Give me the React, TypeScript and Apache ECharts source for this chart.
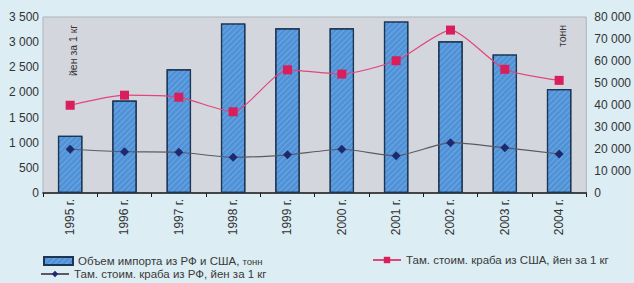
import React, { useEffect, useRef } from "react";
import * as echarts from "echarts";

const categories = ["1995 г.", "1996 г.", "1997 г.", "1998 г.", "1999 г.", "2000 г.", "2001 г.", "2002 г.", "2003 г.", "2004 г."];
const importVolume = [26000, 42000, 56200, 77100, 74900, 74900, 78000, 69000, 63000, 47300];
const priceUSA = [1745, 1945, 1905, 1615, 2450, 2365, 2630, 3240, 2460, 2240];
const priceRF = [870, 820, 810, 710, 760, 870, 740, 1000, 900, 775];
const leftTicks = { min: 0, max: 3500, interval: 500 };
const rightTicks = { min: 0, max: 80000, interval: 10000 };

const fmt = (v: number) => String(v).replace(/\B(?=(\d{3})+(?!\d))/g, " ");

const FONT = "Liberation Sans, Arial, sans-serif";
const legendText = { fontSize: 11.5, color: "#3a3a3a", fontFamily: FONT };

export default function App() {
  const ref = useRef<HTMLDivElement>(null);
  useEffect(() => {
    const chart = echarts.init(ref.current!, undefined, { renderer: "svg" });
    chart.setOption({
      animation: false,
      backgroundColor: "#dcedf3",
      textStyle: { fontFamily: FONT },
      grid: {
        left: 43, right: 42, top: 17, bottom: 90,
        show: true, backgroundColor: "#d4d6dd", borderColor: "#aeb3bb", borderWidth: 1,
      },
      legend: [
        {
          data: [{ name: "Объем импорта из РФ и США, тонн", icon: "rect" }],
          left: 38, top: 250, itemWidth: 29, itemHeight: 8,
          formatter: () => "{a|Объем импорта из РФ и США, }{b|тонн}",
          textStyle: {
            ...legendText,
            rich: {
              a: { fontSize: 11.5, color: "#3a3a3a", fontFamily: FONT },
              b: { fontSize: 9.5, color: "#3a3a3a", fontFamily: FONT },
            },
          },
        },
        {
          data: ["Там. стоим. краба из США, йен за 1 кг"],
          left: 367, top: 249, itemWidth: 28, itemHeight: 8,
          textStyle: legendText,
        },
        {
          data: ["Там. стоим. краба из РФ, йен за 1 кг"],
          left: 38, top: 266, itemWidth: 28, itemHeight: 8, padding: 2,
          textStyle: legendText,
        },
      ],
      xAxis: {
        type: "category",
        data: categories,
        boundaryGap: true,
        axisLine: { lineStyle: { color: "#1a1a1a", width: 1.5 } },
        axisTick: { show: true, length: 4, lineStyle: { color: "#1a1a1a" } },
        axisLabel: { rotate: 90, fontSize: 12, color: "#333", margin: 6, fontFamily: FONT },
      },
      yAxis: [
        {
          type: "value", ...leftTicks,
          axisLine: { show: false }, axisTick: { show: false }, splitLine: { show: false },
          axisLabel: { fontSize: 12, color: "#333", margin: 4, formatter: (v: number) => fmt(v), fontFamily: FONT },
        },
        {
          type: "value", ...rightTicks,
          axisLine: { show: false }, axisTick: { show: false }, splitLine: { show: false },
          axisLabel: { fontSize: 12, color: "#333", margin: 8, formatter: (v: number) => fmt(v), fontFamily: FONT },
        },
      ],
      series: [
        {
          name: "Объем импорта из РФ и США, тонн",
          type: "bar",
          yAxisIndex: 1,
          data: importVolume,
          barWidth: "45%",
          itemStyle: {
            color: "#4f92d8",
            borderColor: "#1c3553",
            borderWidth: 1.2,
            decal: {
              symbol: "rect",
              color: "rgba(255,255,255,0.18)",
              dashArrayX: [1, 0],
              dashArrayY: [1, 3],
              rotation: -Math.PI / 4,
            },
          },
        },
        {
          name: "Там. стоим. краба из США, йен за 1 кг",
          type: "line",
          yAxisIndex: 0,
          data: priceUSA,
          smooth: 0.2,
          symbol: "rect",
          symbolSize: 9,
          lineStyle: { color: "#e2457a", width: 1.2 },
          itemStyle: { color: "#d81e5b" },
        },
        {
          name: "Там. стоим. краба из РФ, йен за 1 кг",
          type: "line",
          yAxisIndex: 0,
          data: priceRF,
          smooth: 0.2,
          symbol: "diamond",
          symbolSize: 9,
          lineStyle: { color: "#5a5a66", width: 1.2 },
          itemStyle: { color: "#1f2a6e" },
        },
      ],
      graphic: [
        {
          type: "text", x: 67, y: 76, rotation: Math.PI / 2,
          style: { text: "йен за 1 кг", fontSize: 10.5, fill: "#333", fontFamily: FONT },
        },
        {
          type: "text", x: 556, y: 47, rotation: Math.PI / 2,
          style: { text: "тонн", fontSize: 10.5, fill: "#333", fontFamily: FONT },
        },
      ],
    });
    return () => chart.dispose();
  }, []);
  return <div ref={ref} style={{ position: "fixed", left: 0, top: 0, width: 634, height: 283 }} />;
}
